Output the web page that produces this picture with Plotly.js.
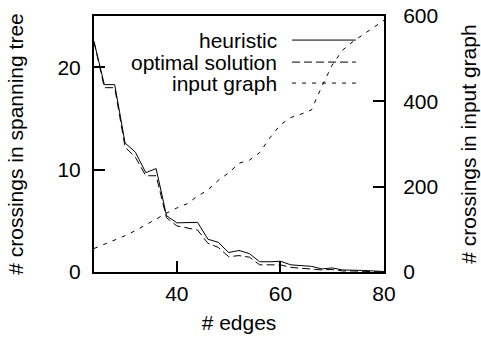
<!DOCTYPE html>
<html>
<head>
<meta charset="utf-8">
<script src="https://cdn.plot.ly/plotly-3.0.1.min.js"></script>
<style>html,body{margin:0;padding:0;background:#fff;}#chart{width:481px;height:338px;}</style>
</head>
<body>
<div id="chart"></div>
<script>
var edges = [24,26,28,30,32,34,36,38,40,42,44,46,48,50,52,54,56,58,60,62,64,66,68,70,72,74,76,78,80];
var heuristic = [22.5,18.3,18.3,12.6,11.7,9.7,10.1,5.5,4.8,4.8,4.85,3.2,2.9,1.9,2.1,1.8,1.0,1.0,1.05,0.7,0.6,0.55,0.3,0.4,0.2,0.2,0.15,0.1,0.05];
var optimal = [22.5,18.0,18.0,12.2,11.2,9.4,9.4,5.3,4.5,4.3,4.1,2.8,2.4,1.5,1.6,1.45,0.7,0.7,0.7,0.45,0.35,0.3,0.2,0.25,0.1,0.1,0.05,0.05,0.0];
var inputGraph = [55,65,75,85,97,110,124,138,150,160,178,192,215,232,255,262,280,315,345,362,370,380,435,485,520,540,556,572,590];
var legendLabels = ["heuristic","optimal solution","input graph"];
var xTitle = "# edges";
var yTitle = "# crossings in spanning tree";
var y2Title = "# crossings in input graph";

var FONT = "Liberation Sans, Arial, Helvetica, sans-serif";
var dashes = ["solid","8px,4px","4px,6px"];

var traces = [
  {x: edges, y: heuristic, type: "scatter", mode: "lines", name: legendLabels[0], line: {color: "#000", width: 1, dash: dashes[0]}, showlegend: false},
  {x: edges, y: optimal, type: "scatter", mode: "lines", name: legendLabels[1], line: {color: "#000", width: 1, dash: dashes[1]}, showlegend: false},
  {x: edges, y: inputGraph, type: "scatter", mode: "lines", name: legendLabels[2], yaxis: "y2", line: {color: "#000", width: 1, dash: dashes[2]}, showlegend: false}
];

var rowY = [0.906, 0.820, 0.738];
var annotations = [];
var shapes = [];
for (var i = 0; i < legendLabels.length; i++) {
  annotations.push({xref: "paper", yref: "paper", x: 0.638, y: rowY[i], xanchor: "right", yanchor: "middle", text: legendLabels[i], showarrow: false, font: {family: FONT, size: 21, color: "#000"}});
  shapes.push({type: "line", xref: "paper", yref: "paper", x0: 0.683, x1: 0.903, y0: rowY[i], y1: rowY[i], line: {color: "#000", width: 1, dash: dashes[i]}});
}

var axisCommon = {
  showgrid: false, zeroline: false, showline: true, linecolor: "#000", linewidth: 2,
  ticks: "inside", ticklen: 11, tickwidth: 2, tickcolor: "#000",
  tickfont: {family: FONT, size: 21, color: "#000"}
};

var layout = {
  width: 481, height: 338,
  margin: {l: 94, r: 97, t: 16, b: 66},
  paper_bgcolor: "#fff", plot_bgcolor: "#fff",
  font: {family: FONT, size: 21, color: "#000"},
  xaxis: Object.assign({}, axisCommon, {range: [24, 80], tickvals: [40, 60, 80], mirror: true, ticklabelstandoff: 2,
    title: {text: xTitle, font: {family: FONT, size: 21, color: "#000"}, standoff: 11}}),
  yaxis: Object.assign({}, axisCommon, {range: [0, 25], tickvals: [0, 10, 20], ticklabelstandoff: 7,
    title: {text: yTitle, font: {family: FONT, size: 21, color: "#000"}, standoff: 28}}),
  yaxis2: Object.assign({}, axisCommon, {range: [0, 600], tickvals: [0, 200, 400, 600], overlaying: "y", side: "right", ticklabelstandoff: 13,
    title: {text: y2Title, font: {family: FONT, size: 21, color: "#000"}, standoff: 24}}),
  annotations: annotations,
  shapes: shapes,
  showlegend: false
};

Plotly.newPlot("chart", traces, layout, {staticPlot: true, displayModeBar: false});
</script>
</body>
</html>
